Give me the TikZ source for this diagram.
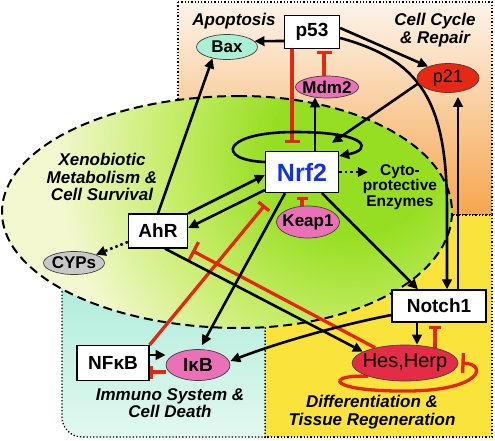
\documentclass[tikz,border=0pt]{standalone}
\usepackage{fontspec}
\setmainfont{Liberation Sans}
\usetikzlibrary{arrows.meta,shapes.geometric,calc}
\definecolor{orTop}{RGB}{253,244,234}
\definecolor{orBot}{RGB}{246,166,78}
\definecolor{yel}{RGB}{250,228,60}
\definecolor{cyTop}{RGB}{165,234,214}
\definecolor{cyBot}{RGB}{226,248,240}
\definecolor{gPale}{RGB}{243,248,208}
\definecolor{gMid}{RGB}{196,236,100}
\definecolor{gBright}{RGB}{150,222,34}
\definecolor{mint}{RGB}{170,240,215}
\definecolor{pinkc}{RGB}{236,112,184}
\definecolor{redc}{RGB}{230,40,20}
\definecolor{hesc}{RGB}{228,44,70}
\definecolor{grayc}{RGB}{200,200,200}
\definecolor{myred}{RGB}{228,40,15}
\definecolor{nrfblue}{RGB}{20,50,225}
\newcommand{\fsz}[2]{\fontsize{#1}{#2}\selectfont}
\newcommand{\zb}[1]{\makebox[0pt]{#1}}
\pgfdeclarelayer{bg}
\pgfdeclarelayer{edges}
\pgfsetlayers{bg,edges,main}
\pgfdeclareradialshading{greenglow}{\pgfpoint{0bp}{0bp}}{color(0bp)=(gBright); color(7bp)=(gBright); color(15bp)=(gMid); color(25bp)=(gPale); color(50bp)=(gPale)}
\tikzset{
  boxn/.style={draw, fill=white, line width=1.3pt, inner sep=0pt},
  elln/.style={ellipse, draw=black!75, line width=0.7pt, inner sep=0pt},
  act/.style={line width=2.6pt, -{Triangle[length=10pt,width=9.5pt]}},
  inh/.style={line width=3.3pt, draw=myred, -{Bar[width=15pt,line width=3.3pt]}},
  dots/.style={line width=2.6pt, dash pattern=on 2.5pt off 3pt, -{Triangle[length=10pt,width=9.5pt]}},
  reglab/.style={font=\bfseries\itshape\fsz{17}{17.5}, align=center, inner sep=0pt},
  regborder/.style={line width=1.3pt, dash pattern=on 1.3pt off 2pt},
}
\begin{document}
\begin{tikzpicture}[x=1pt,y=-1pt]
\useasboundingbox (0,0) rectangle (495,440);

% ---------- regions ----------
\begin{pgfonlayer}{bg}
  \shade[top color=orTop, bottom color=orBot] (178,2) rectangle (492,215);
  \draw[regborder] (178,2) rectangle (492,215);
  \fill[yel] (265,215) rectangle (492,437);
  \draw[regborder] (265,215) rectangle (492,437);
  \shade[top color=cyTop, bottom color=cyBot] (265,250) -- (62,250) -- (62,417) arc[start angle=180, end angle=90, radius=20] -- (265,437) -- cycle;
  \draw[regborder] (265,250) -- (62,250) -- (62,417) arc[start angle=180, end angle=90, radius=20] -- (265,437) -- cycle;
  \begin{scope}
    \clip (240,96) arc[start angle=-90, end angle=-270, x radius=238, y radius=116]
                   arc[start angle=90, end angle=-90, x radius=212, y radius=116] -- cycle;
    \fill[gPale] (0,0) rectangle (495,440);
    \shade[shading=greenglow] (355,150) circle (300);
  \end{scope}
  \draw[line width=2pt, dash pattern=on 9pt off 5pt]
     (240,96) arc[start angle=-90, end angle=-270, x radius=238, y radius=116]
              arc[start angle=90, end angle=-90, x radius=212, y radius=116] -- cycle;
\end{pgfonlayer}

% ---------- region labels ----------
\node[reglab] (lApop) at (234,21) {Apoptosis};
\node[reglab] (lCell) at (435,30) {Cell Cycle\\\& Repair};
\node[reglab] (lXeno) at (102,177) {Xenobiotic\\Metabolism \&\\Cell Survival};
\node[reglab] (lImm) at (170,403) {Immuno System \&\\Cell Death};
\node[reglab] (lDiff) at (372,412) {Differentiation \&\\Tissue Regeneration};
\node[font=\bfseries\fsz{15.5}{15.5}, align=center, inner sep=0pt] (enz) at (400,187) {Cyto-\\protective\\Enzymes};

% ---------- nodes ----------
\node[boxn, minimum width=55, minimum height=33, font=\bfseries\fsz{19}{19}] (p53) at (312,32) {p53};
\node[boxn, minimum width=73, minimum height=41, font=\bfseries\fsz{25}{25}, text=nrfblue] (Nrf2) at (302,172) {Nrf2};
\node[boxn, minimum width=59, minimum height=34, font=\bfseries\fsz{19}{19}] (AhR) at (158,231) {AhR};
\node[boxn, minimum width=72, minimum height=35, font=\bfseries\fsz{19}{19}] (NFkB) at (113,363) {NFκB};
\node[boxn, minimum width=94, minimum height=32, font=\bfseries\fsz{19}{19}] (Notch1) at (439,306) {Notch1};
\node[elln, fill=mint, minimum width=61, minimum height=25, font=\bfseries\fsz{17}{17}] (Bax) at (227,47) {\zb{Bax}};
\node[elln, fill=pinkc, minimum width=63, minimum height=22, font=\bfseries\fsz{17}{17}] (Mdm2) at (327,87) {\zb{Mdm2}};
\node[elln, fill=redc, minimum width=62, minimum height=29, font=\fsz{18}{18}] (p21) at (448,78) {\zb{p21}};
\node[elln, fill=pinkc, minimum width=63, minimum height=32, font=\bfseries\fsz{17}{17}] (Keap1) at (308,222) {\zb{Keap1}};
\node[elln, fill=grayc, minimum width=61, minimum height=23, font=\bfseries\fsz{17}{17}] (CYPs) at (74,263) {\zb{CYPs}};
\node[elln, fill=pinkc, minimum width=64, minimum height=31, font=\bfseries\fsz{19}{19}] (IkB) at (198,365) {\zb{IκB}};
\node[elln, fill=hesc, minimum width=106, minimum height=36, font=\fsz{20}{20}] (Hes) at (405,363) {\zb{Hes,Herp}};

% ---------- connectors ----------
\begin{pgfonlayer}{edges}
  \draw[act] (AhR.north) -- (Bax.218);
  \draw[act] ([yshift=-9pt]p53.west) -- (Bax.12);
  \draw[inh] ([xshift=-20pt]p53.south) -- ([xshift=-10pt,yshift=8pt]Nrf2.north);
  \draw[inh] ([xshift=-3pt]Mdm2.north) -- ([xshift=12pt,yshift=-2pt]p53.south);
  \draw[act] ([xshift=13pt]Nrf2.north) -- ([xshift=-12pt,yshift=1pt]Mdm2.south);
  \draw[act] ([yshift=4pt]p53.east) -- (p21.150);
  \draw[act] ([yshift=-6pt]p53.east) .. controls (420,60) and (447,100) .. (447,210) -- ([xshift=8pt]Notch1.north);
  \draw[act] ([xshift=19pt]Notch1.north) -- ([xshift=10pt,yshift=-4pt]p21.south);
  \draw[act] (p21.190) -- ([xshift=30pt,yshift=8pt]Nrf2.north);
  \draw[act] ([yshift=10pt]Nrf2.west) .. controls (215,160) and (222,132) .. (295,132)
             .. controls (370,132) and (372,150) .. ([yshift=-5pt]Nrf2.north east);
  \draw[dots] (Nrf2.east) -- ($(enz.west|-Nrf2.east)+(5,0)$);
  \draw[dots] ([yshift=-11pt]AhR.west) -- (CYPs.north east);
  \draw[act] (AhR.north east) -- ([yshift=-3pt]Nrf2.west);
  \draw[act] ([yshift=-18pt]Nrf2.west) -- ([yshift=3pt]AhR.east);
  \draw[inh, -{Bar[width=14pt,line width=3.3pt]}] (NFkB.north east) -- ([yshift=-12pt]Nrf2.south west);
  \draw[inh, -{Bar[width=21pt,line width=3.3pt]}] (Hes.153) -- ([xshift=4pt,yshift=-2pt]AhR.south east);
  \draw[act] ([xshift=7pt]AhR.south) -- (Hes.165);
  \draw[act] ([xshift=-17pt]Nrf2.south) -- ([xshift=4pt,yshift=4pt]IkB.north);
  \draw[act] ([xshift=20pt]Nrf2.south) -- ([xshift=-21pt]Notch1.north);
  \draw[act] ([yshift=-9pt]Notch1.west) .. controls (340,325) and (280,342) .. ([yshift=4pt]IkB.east);
  \draw[act] ([xshift=-22pt]Notch1.south) -- ([xshift=12pt]Hes.north);
  \draw[inh, -{Bar[width=12pt,line width=3.3pt]}] ([xshift=30pt,yshift=-3pt]Hes.north) -- ([xshift=-4pt,yshift=-3pt]Notch1.south);
  \draw[act] ([yshift=8pt]NFkB.east) -- ([yshift=10pt]IkB.west);
  \draw[inh, -{Bar[width=13pt,line width=3.3pt]}] ([yshift=-7pt]IkB.west) -- ([yshift=-9pt]NFkB.east);
  \draw[inh, -{Bar[width=11pt,line width=3.3pt]}] ([xshift=-6pt]Keap1.north) -- ([yshift=-4pt]Nrf2.south);
  \draw[inh, -{Bar[width=20pt,line width=3.3pt]}] (Hes.200) .. controls (325,374) and (325,392) .. (410,391)
             .. controls (482,390) and (488,364) .. ([xshift=3pt]Hes.east);
\end{pgfonlayer}
\end{tikzpicture}
\end{document}
